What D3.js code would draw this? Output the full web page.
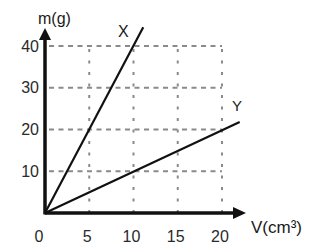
<!DOCTYPE html>
<html><head><meta charset="utf-8">
<script src="https://cdn.jsdelivr.net/npm/d3@7/dist/d3.min.js"></script>
<style>body{margin:0;background:#fff}svg{display:block}</style>
</head><body>
<script>
const xTicks = [0, 5, 10, 15, 20];
const yTicks = [10, 20, 30, 40];
const seriesNames = ["X", "Y"];
const lineX = [[0, 0], [11.1, 44.5]];
const lineY = [[0, 0], [22, 21.8]];

const W = 320, H = 248;
const svg = d3.select("body").append("svg").attr("width", W).attr("height", H);
const x = d3.scaleLinear().domain([0, 20]).range([45, 222]);
const y = d3.scaleLinear().domain([0, 40]).range([213, 46]);
const font = "Liberation Sans, Arial, sans-serif";

// grid horizontal dashed
svg.append("g").selectAll("line").data(yTicks).join("line")
  .attr("x1", x(0) + 4).attr("x2", x(20)).attr("y1", d => y(d)).attr("y2", d => y(d))
  .attr("stroke", "#8a8a8a").attr("stroke-width", 1.8).attr("stroke-dasharray", "5,4.5");
// grid vertical dotted
svg.append("g").selectAll("line").data(xTicks.filter(d => d > 0)).join("line")
  .attr("x1", d => x(d)).attr("x2", d => x(d)).attr("y1", y(0)).attr("y2", y(40))
  .attr("stroke", "#8a8a8a").attr("stroke-width", 2).attr("stroke-dasharray", "3,8.5");

// lines
const lg = d3.line().x(d => x(d[0])).y(d => y(d[1]));
[lineX, lineY].forEach(l => svg.append("path").attr("d", lg(l))
  .attr("fill", "none").attr("stroke", "#111").attr("stroke-width", 2.2));

// axes
svg.append("line").attr("x1", x(0)).attr("x2", 236).attr("y1", y(0)).attr("y2", y(0))
  .attr("stroke", "#111").attr("stroke-width", 3.5);
svg.append("line").attr("x1", x(0)).attr("x2", x(0)).attr("y1", y(0) + 1.5).attr("y2", 38)
  .attr("stroke", "#111").attr("stroke-width", 3.5);
svg.append("path").attr("d", `M246,${y(0)} L233,${y(0) - 6} L233,${y(0) + 6} Z`).attr("fill", "#111");
svg.append("path").attr("d", `M${x(0)},28 L${x(0) - 6},40 L${x(0) + 6},40 Z`).attr("fill", "#111");

// tick labels
svg.append("g").selectAll("text").data(yTicks).join("text")
  .attr("x", 39).attr("y", d => y(d)).attr("dy", "0.35em").attr("text-anchor", "end")
  .attr("font-family", font).attr("font-size", 16).attr("fill", "#2a2a2a").text(d => d);
svg.append("g").selectAll("text").data(xTicks).join("text")
  .attr("x", d => d === 0 ? 39 : x(d) - 2).attr("y", 242).attr("text-anchor", "middle")
  .attr("font-family", font).attr("font-size", 16).attr("fill", "#2a2a2a").text(d => d);

// axis titles
svg.append("text").attr("x", 38).attr("y", 24).attr("font-family", font).attr("font-size", 16)
  .attr("fill", "#1a1a1a").text("m(g)");
svg.append("text").attr("x", 251).attr("y", 233).attr("font-family", font).attr("font-size", 17)
  .attr("fill", "#1a1a1a").text("V(cm³)");

// series labels
svg.append("text").attr("x", 118).attr("y", 37).attr("font-family", font).attr("font-size", 16)
  .attr("fill", "#1a1a1a").text(seriesNames[0]);
svg.append("text").attr("x", 232).attr("y", 111).attr("font-family", font).attr("font-size", 15)
  .attr("fill", "#1a1a1a").text(seriesNames[1]);
</script>
</body></html>
